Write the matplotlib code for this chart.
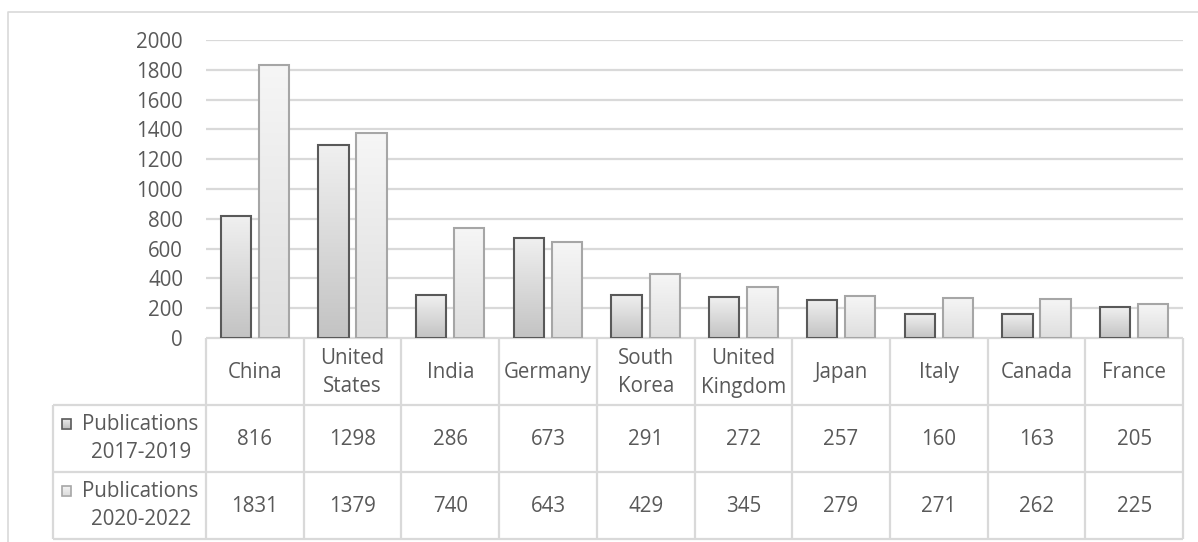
import matplotlib
matplotlib.use("Agg")
import matplotlib.pyplot as plt
import numpy as np
from matplotlib.colors import LinearSegmentedColormap
from matplotlib.patches import Rectangle

countries = ["China", "United\nStates", "India", "Germany", "South\nKorea",
             "United\nKingdom", "Japan", "Italy", "Canada", "France"]
pubs_2017_2019 = [816, 1298, 286, 673, 291, 272, 257, 160, 163, 205]
pubs_2020_2022 = [1831, 1379, 740, 643, 429, 345, 279, 271, 262, 225]
series_labels = [("Publications", "2017-2019"), ("Publications", "2020-2022")]
y_ticks = list(range(0, 2001, 200))

W, H = 1198, 542
text_col = "#595959"
line_col = "#d9d9d9"
fs = 14.8

plt.rcParams["font.family"] = ["Open Sans", "DejaVu Sans"]

# vertical gradients for the two series (bottom -> top)
cmap_dark = LinearSegmentedColormap.from_list("dk", ["#c3c3c3", "#f0f0f0"])
cmap_light = LinearSegmentedColormap.from_list("lt", ["#dedede", "#f6f6f6"])
edge_dark = "#595959"
edge_light = "#a6a6a6"

fig = plt.figure(figsize=(W / 100, H / 100), dpi=100)

# plot area in pixel terms
px_left, px_right, px_top, px_zero = 206, 1183, 40, 338
ax = fig.add_axes([px_left / W, 1 - px_zero / H,
                   (px_right - px_left) / W, (px_zero - px_top) / H])

n = len(countries)
x = np.arange(n)
bw, off = 0.31, 0.195

grad = np.linspace(0, 1, 256).reshape(-1, 1)
for vals, sign, cmap, ec in [(pubs_2017_2019, -1, cmap_dark, edge_dark),
                             (pubs_2020_2022, 1, cmap_light, edge_light)]:
    bars = ax.bar(x + sign * off, vals, width=bw, facecolor="none",
                  edgecolor=ec, linewidth=1.5, zorder=4)
    for b in bars:
        bx, bh = b.get_x(), b.get_height()
        im = ax.imshow(grad, extent=[bx, bx + b.get_width(), 0, bh],
                       origin="lower", aspect="auto", cmap=cmap, zorder=3)
        im.set_clip_path(b)

ax.set_xlim(-0.5, n - 0.5)
ax.set_ylim(0, 2000)
ax.set_yticks(y_ticks)
ax.set_xticks([])
ax.tick_params(axis="y", length=0, pad=16.5, labelsize=fs, labelcolor=text_col)
ax.yaxis.grid(True, color=line_col, linewidth=1.6, zorder=0)
ax.set_axisbelow(True)
for s in ax.spines.values():
    s.set_visible(False)

# overlay in pixel coordinates for the data table and frame
ov = fig.add_axes([0, 0, 1, 1], zorder=-1)
ov.set_xlim(0, W)
ov.set_ylim(H, 0)
ov.axis("off")

# outer frame (left and top)
ov.plot([7.5, 7.5, W], [H, 11.5, 11.5], color=line_col, lw=1.2)

leg_left = 53
row_y = [px_zero, 405, 472, 539]
col_w = (px_right - px_left) / n
col_edges = [px_left + i * col_w for i in range(n + 1)]

tl = dict(color=line_col, lw=1.6, solid_capstyle="butt")
ov.plot([px_left, px_right], [row_y[0]] * 2, **tl)
for yy in row_y[1:]:
    ov.plot([leg_left, px_right], [yy, yy], **tl)
for xx in col_edges:
    ov.plot([xx, xx], [row_y[0], row_y[-1]], **tl)
ov.plot([leg_left, leg_left], [row_y[1], row_y[-1]], **tl)

# category labels
for i, c in enumerate(countries):
    cx = (col_edges[i] + col_edges[i + 1]) / 2
    ov.text(cx, (row_y[0] + row_y[1]) / 2 + 1, c, ha="center", va="center",
            fontsize=fs, color=text_col, linespacing=1.5)

# value rows with legend keys
rows = [(pubs_2017_2019, cmap_dark, edge_dark),
        (pubs_2020_2022, cmap_light, edge_light)]
for r, (vals, cmap, ec) in enumerate(rows):
    y0, y1 = row_y[r + 1], row_y[r + 2]
    cy = (y0 + y1) / 2
    # legend key
    key = Rectangle((62, cy - 20), 9, 10, facecolor="none", edgecolor=ec, lw=1.2, zorder=4)
    ov.add_patch(key)
    kim = ov.imshow(grad[::-1], extent=[62, 71, cy - 10, cy - 20],
                    aspect="auto", cmap=cmap, zorder=3)
    kim.set_clip_path(key)
    l1, l2 = series_labels[r]
    ov.text(198, cy - 14, l1, ha="right", va="center", fontsize=fs, color=text_col)
    ov.text(191, cy + 14, l2, ha="right", va="center", fontsize=fs, color=text_col)
    for i, v in enumerate(vals):
        cx = (col_edges[i] + col_edges[i + 1]) / 2
        ov.text(cx, cy + 1, str(v), ha="center", va="center", fontsize=fs, color=text_col)

ov.set_xlim(0, W)
ov.set_ylim(H, 0)

fig.savefig("out.png", dpi=100, facecolor="white")
